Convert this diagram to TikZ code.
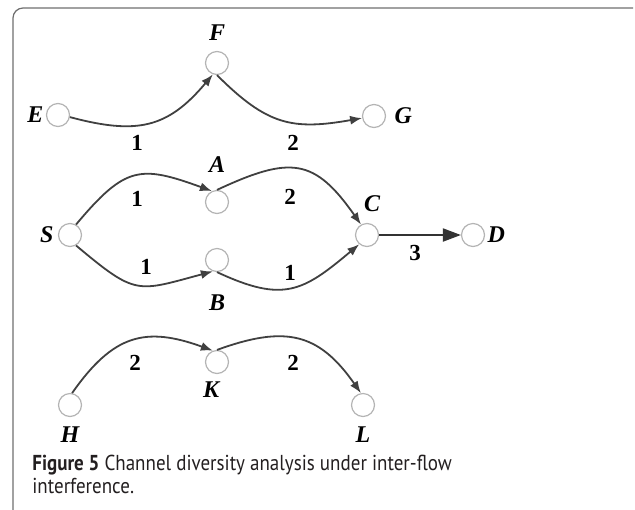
\documentclass[tikz,border=0pt]{standalone}
\usepackage{fontspec}
\setmainfont{Liberation Serif}
\newfontfamily\capfont{PT Sans}
\usetikzlibrary{arrows.meta,positioning}
\definecolor{arco}{HTML}{404040}
\definecolor{borde}{HTML}{B4B4B4}
\definecolor{marco}{HTML}{6E6E6E}
\definecolor{texto}{HTML}{231F20}

\begin{document}
\begin{tikzpicture}[x=0.5pt, y=0.5pt,
  nd/.style={circle, draw=borde, line width=0.6pt, fill=white, minimum size=11.5pt, inner sep=0pt},
  lbl/.style={font=\fontsize{12}{14}\selectfont\bfseries\itshape, inner sep=1pt},
  peso/.style={font=\fontsize{11.5}{13}\selectfont\bfseries, inner sep=0pt},
  flecha/.style={-{Latex[length=6pt,width=4.5pt]}, line width=0.9pt, arco}]
\useasboundingbox (0,0) rectangle (635,-509);
\draw[marco, line width=0.6pt, rounded corners=5pt] (633,-8) -- (13,-8) -- (13,-512);

% flujo E-F-G
\node[nd] (E) at (58,-115) {};
\node[nd] (F) at (217,-63) {};
\node[nd] (G) at (374,-116) {};
\node[lbl, left=0pt of E] (tE) {E};
\node[lbl] (tF) at (217,-33) {F};
\node[lbl, right=3pt of G] (tG) {G};
\draw[flecha] (E.-10) to[out=-15, in=230, looseness=1.2] (F.-110);
\draw[flecha] (F.-90) to[out=-45, in=190, looseness=1.2] (G.190);
\node[peso] (w1) at (137,-143) {1};
\node[peso] (w2) at (293,-143) {2};

% flujo S-A/B-C-D
\node[nd] (S) at (70,-235) {};
\node[nd] (A) at (217,-202) {};
\node[nd] (B) at (217,-260) {};
\node[nd] (C) at (367,-235) {};
\node[nd] (D) at (473,-235) {};
\node[lbl, left=1pt of S] (tS) {S};
\node[lbl] (tA) at (217,-165) {A};
\node[lbl] (tB) at (217,-303) {B};
\node[lbl] (tC) at (372,-204) {C};
\node[lbl, right=0pt of D] (tD) {D};
\draw[flecha] (S.60) to[out=50, in=160, looseness=1.4] (A.115);
\draw[flecha] (A.90) to[out=25, in=125, looseness=1.4] (C.120);
\draw[flecha] (S.-60) to[out=-40, in=195, looseness=1.45] (B.-110);
\draw[flecha] (B.-90) to[out=-25, in=220, looseness=1.3] (C.-130);
\draw[-{Triangle[length=9pt,width=6.5pt]}, line width=1pt, arco!80!black] (C) -- (D);
\node[peso] (w3) at (137,-199) {1};
\node[peso] (w4) at (290,-197) {2};
\node[peso] (w5) at (146,-267) {1};
\node[peso] (w6) at (290,-273) {1};
\node[peso] (w7) at (415,-253) {3};

% flujo H-K-L
\node[nd] (H) at (70,-405) {};
\node[nd] (K) at (217,-362) {};
\node[nd] (L) at (363,-405) {};
\node[lbl] (tH) at (70,-435) {H};
\node[lbl] (tK) at (211,-390) {K};
\node[lbl] (tL) at (363,-435) {L};
\draw[flecha] (H.80) to[out=55, in=160, looseness=1.25] (K.110);
\draw[flecha] (K.90) to[out=20, in=125, looseness=1.25] (L.100);
\node[peso] (w8) at (135,-363) {2};
\node[peso] (w9) at (293,-363) {2};

\node[anchor=north west, align=left, inner sep=0pt, xscale=0.88, transform shape, texto,
      font=\capfont\fontsize{10.8}{11.5}\selectfont] (cap) at (32,-455)
  {\textbf{Figure 5} Channel diversity analysis under inter-flow\\interference.};
\end{tikzpicture}
\end{document}
